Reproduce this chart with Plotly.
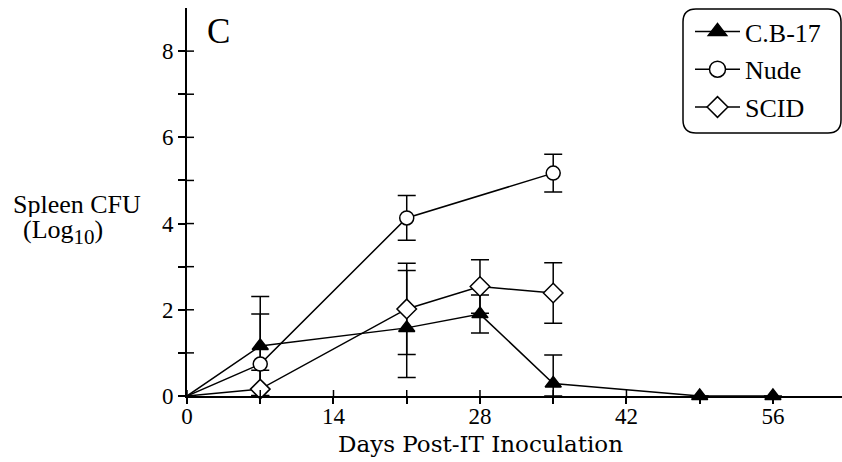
import plotly.graph_objects as go

# ---------------- data ----------------
days_cb17 = [0, 7, 21, 28, 35, 49, 56]
cfu_cb17 = [0, 1.16, 1.58, 1.90, 0.29, 0, 0]
err_up_cb17 = [0, 1.15, 1.33, 0.44, 0.66, 0, 0]
err_dn_cb17 = [0, 1.15, 1.15, 0.44, 0.29, 0, 0]

days_nude = [0, 7, 21, 35]
cfu_nude = [0, 0.74, 4.13, 5.17]
err_up_nude = [0, 1.16, 0.52, 0.44]
err_dn_nude = [0, 0.74, 0.52, 0.44]

days_scid = [0, 7, 21, 28, 35]
cfu_scid = [0, 0.16, 2.02, 2.54, 2.39]
err_up_scid = [0, 0.44, 1.06, 0.62, 0.70]
err_dn_scid = [0, 0.16, 1.06, 0.62, 0.70]

series_names = ["C.B-17", "Nude", "SCID"]

x_ticks = [0, 7, 14, 21, 28, 35, 42, 49, 56]
x_tick_labels = ["0", "", "14", "", "28", "", "42", "", "56"]
y_ticks = [0, 1, 2, 3, 4, 5, 6, 7, 8]
y_tick_labels = ["0", "", "2", "", "4", "", "6", "", "8"]

x_title = "Days Post-IT Inoculation"
y_title_1 = "Spleen CFU"
y_title_2 = "(Log<sub><span style='font-size:21px'>10</span></sub>)"
panel_label = "C"

# ---------------- styling ----------------
W, H = 842, 462
ML, MR, MT, MB = 187, 0, 8, 66
PW, PH = W - ML - MR, H - MT - MB
TXT = "Liberation Serif"

def px_x(px):
    return (px - ML) / PW

def px_y(py):
    return (H - MB - py) / PH

styles = [
    dict(symbol="triangle-up", color="black", size=14),
    dict(symbol="circle", color="white", size=14),
    dict(symbol="diamond", color="white", size=15),
]
data = [
    (days_cb17, cfu_cb17, err_up_cb17, err_dn_cb17),
    (days_nude, cfu_nude, err_up_nude, err_dn_nude),
    (days_scid, cfu_scid, err_up_scid, err_dn_scid),
]

fig = go.Figure()
# error bars first, so that the markers cover them
for name, (xs, ys, eu, ed) in zip(series_names, data):
    fig.add_trace(go.Scatter(
        x=xs, y=ys, mode="markers", name=name, showlegend=False,
        cliponaxis=False, hoverinfo="skip",
        marker=dict(size=1, color="rgba(0,0,0,0)"),
        error_y=dict(type="data", symmetric=False, array=eu, arrayminus=ed,
                     color="black", thickness=1.5, width=9),
    ))
for name, st, (xs, ys, eu, ed) in zip(series_names, styles, data):
    sizes = [0 if d == 0 else st["size"] for d in xs]
    fig.add_trace(go.Scatter(
        x=xs, y=ys, mode="lines+markers", name=name, showlegend=False,
        cliponaxis=False,
        line=dict(color="black", width=1.5),
        marker=dict(symbol=st["symbol"], size=sizes, color=st["color"],
                    opacity=1,
                    line=dict(color="black", width=1.5)),
    ))

# legend entries
for name, st in zip(series_names, styles):
    fig.add_trace(go.Scatter(
        x=[None], y=[None], mode="lines+markers", name=name,
        legendgroup=name,
        line=dict(color="black", width=1.5),
        marker=dict(symbol=st["symbol"], size=st["size"] + 2, color=st["color"],
                    opacity=1,
                    line=dict(color="black", width=1.5)),
    ))

shapes = []
# inside halves of the crossing tick marks
for t in x_ticks:
    shapes.append(dict(type="line", xref="x", x0=t, x1=t, yref="y",
                       ysizemode="pixel", yanchor=0, y0=0, y1=6,
                       line=dict(color="black", width=1.5)))
for t in y_ticks:
    shapes.append(dict(type="line", yref="y", y0=t, y1=t, xref="x",
                       xsizemode="pixel", xanchor=0, x0=0, x1=7,
                       line=dict(color="black", width=1.5)))

# rounded legend box
bx0, bx1 = px_x(683), px_x(841)
by0, by1 = px_y(133), px_y(9)
rx, ry = 13 / PW, 13 / PH
path = (f"M {bx0+rx},{by1} L {bx1-rx},{by1} Q {bx1},{by1} {bx1},{by1-ry} "
        f"L {bx1},{by0+ry} Q {bx1},{by0} {bx1-rx},{by0} "
        f"L {bx0+rx},{by0} Q {bx0},{by0} {bx0},{by0+ry} "
        f"L {bx0},{by1-ry} Q {bx0},{by1} {bx0+rx},{by1} Z")
shapes.append(dict(type="path", xref="paper", yref="paper", path=path,
                   line=dict(color="black", width=1.5)))

annotations = [
    dict(text=panel_label, xref="paper", yref="paper", x=px_x(205), y=px_y(31),
         xanchor="left", yanchor="middle", showarrow=False,
         font=dict(family=TXT, size=35, color="black")),
    dict(text=y_title_1, xref="paper", yref="paper", x=px_x(11), y=px_y(204),
         xanchor="left", yanchor="middle", showarrow=False, height=26,
         font=dict(family=TXT, size=26, color="black")),
    dict(text=y_title_2, xref="paper", yref="paper", x=px_x(21), y=px_y(232),
         xanchor="left", yanchor="middle", showarrow=False, height=28,
         font=dict(family=TXT, size=26, color="black")),
    dict(text=x_title, xref="paper", yref="paper", x=px_x(480), y=px_y(444),
         xanchor="center", yanchor="middle", showarrow=False,
         font=dict(family="DejaVu Serif", size=23, color="black")),
]

fig.update_layout(
    width=W, height=H,
    margin=dict(l=ML, r=MR, t=MT, b=MB, pad=0),
    plot_bgcolor="white", paper_bgcolor="white",
    shapes=shapes, annotations=annotations,
    legend=dict(x=px_x(690), y=px_y(8), xanchor="left", yanchor="top",
                bgcolor="rgba(0,0,0,0)", borderwidth=0,
                font=dict(family=TXT, size=26, color="black"),
                itemwidth=45,
                traceorder="grouped", tracegroupgap=1),
    xaxis=dict(range=[0, 62.6], showline=True, linecolor="black", linewidth=2,
               ticks="outside", ticklen=6, tickwidth=1.5, tickcolor="black",
               tickvals=x_ticks, ticktext=x_tick_labels,
               ticklabelstandoff=-8,
               tickfont=dict(family=TXT, size=23, color="black"),
               showgrid=False, zeroline=False),
    yaxis=dict(range=[0, 9], showline=True, linecolor="black", linewidth=2,
               ticks="outside", ticklen=7, tickwidth=1.5, tickcolor="black",
               tickvals=y_ticks, ticktext=y_tick_labels,
               tickfont=dict(family=TXT, size=23, color="black"),
               showgrid=False, zeroline=False),
)

fig.write_html("out.html")
